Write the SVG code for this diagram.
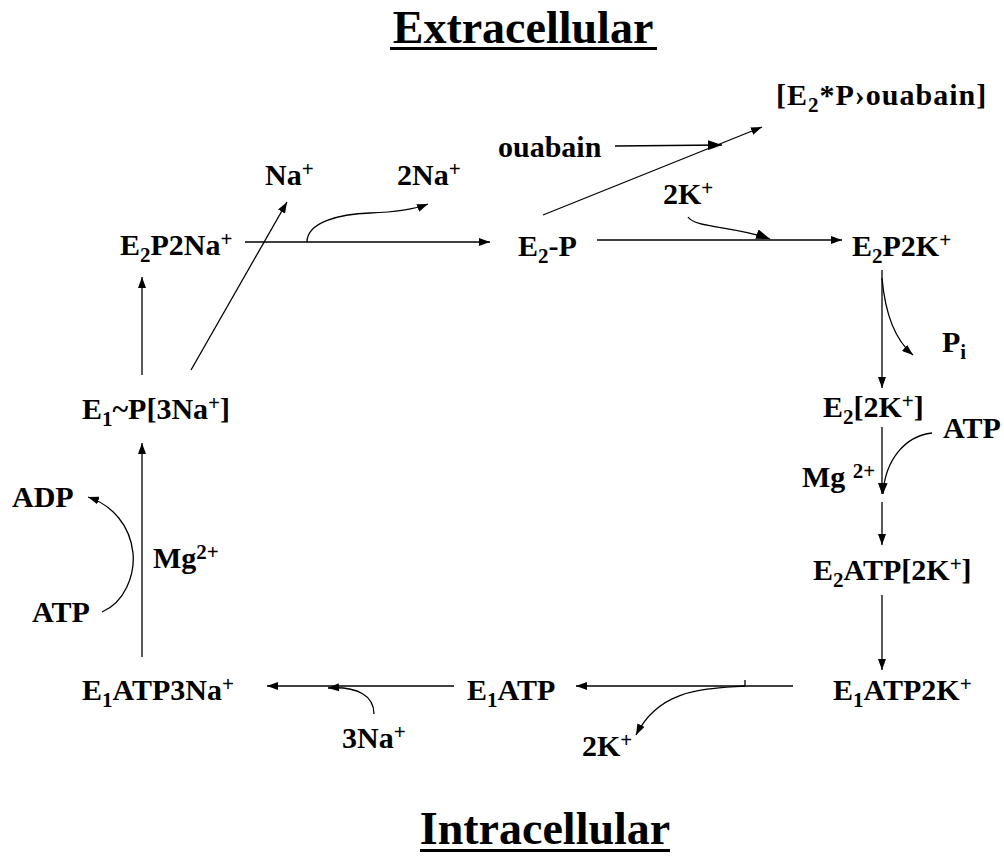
<svg xmlns="http://www.w3.org/2000/svg" width="1004" height="868" viewBox="0 0 1004 868">
<style>
text{font-family:"Liberation Serif","Times New Roman",serif;font-weight:bold;fill:#000}
.n{font-size:30px}
.t{font-size:46px}
.s{font-size:21px}
.c line,.c path{stroke:#000;stroke-width:1.3;fill:none}
</style>
<defs>
<marker id="a" markerUnits="userSpaceOnUse" markerWidth="11" markerHeight="8" refX="11" refY="4" orient="auto"><path d="M0,0 L11,4 L0,8 z" fill="#000"/></marker>
<marker id="b" markerUnits="userSpaceOnUse" markerWidth="14" markerHeight="10" refX="14" refY="5" orient="auto"><path d="M0,0 L14,5 L0,10 z" fill="#000"/></marker>
</defs>
<g id="title-extra"><text class="t" x="523" y="43" text-anchor="middle">Extracellular</text><rect x="390" y="47" width="267" height="3"/></g>
<g id="title-intra"><text class="t" x="545" y="844" text-anchor="middle">Intracellular</text><rect x="420" y="849" width="250" height="3"/></g>

<g id="E2P2Na"><text class="n" x="120" y="255">E<tspan class="s" dy="7">2</tspan><tspan dy="-7">P2Na</tspan><tspan class="s" dy="-9">+</tspan></text></g>
<g id="Na"><text class="n" x="265" y="185">Na<tspan class="s" dy="-9">+</tspan></text></g>
<g id="Na2"><text class="n" x="397" y="185">2Na<tspan class="s" dy="-9">+</tspan></text></g>
<g id="E2-P"><text class="n" x="518" y="256">E<tspan class="s" dy="7">2</tspan><tspan dy="-7">-P</tspan></text></g>
<g id="ouabain"><text class="n" x="498" y="157">ouabain</text></g>
<g id="E2Pouabain"><text class="n" x="776" y="105" letter-spacing="1">[E<tspan class="s" dy="7">2</tspan><tspan dy="-7">*P›ouabain]</tspan></text></g>
<g id="K2top"><text class="n" x="663" y="204">2K<tspan class="s" dy="-9">+</tspan></text></g>
<g id="E2P2K"><text class="n" x="852" y="256">E<tspan class="s" dy="7">2</tspan><tspan dy="-7">P2K</tspan><tspan class="s" dy="-9">+</tspan></text></g>
<g id="Pi"><text class="n" x="942" y="352">P<tspan class="s" dy="7">i</tspan></text></g>
<g id="E2-2K"><text class="n" x="823" y="417">E<tspan class="s" dy="7">2</tspan><tspan dy="-7">[2K</tspan><tspan class="s" dy="-9">+</tspan><tspan dy="9">]</tspan></text></g>
<g id="ATPr"><text class="n" x="943" y="438">ATP</text></g>
<g id="Mgr"><text class="n" x="802" y="487">Mg <tspan class="s" dy="-9">2+</tspan></text></g>
<g id="E2ATP2K"><text class="n" x="813" y="580">E<tspan class="s" dy="7">2</tspan><tspan dy="-7">ATP[2K</tspan><tspan class="s" dy="-9">+</tspan><tspan dy="9">]</tspan></text></g>
<g id="E1ATP2K"><text class="n" x="833" y="700">E<tspan class="s" dy="7">1</tspan><tspan dy="-7">ATP2K</tspan><tspan class="s" dy="-9">+</tspan></text></g>
<g id="K2bot"><text class="n" x="582" y="756">2K<tspan class="s" dy="-9">+</tspan></text></g>
<g id="E1ATP"><text class="n" x="467" y="700">E<tspan class="s" dy="7">1</tspan><tspan dy="-7">ATP</tspan></text></g>
<g id="Na3"><text class="n" x="342" y="748">3Na<tspan class="s" dy="-9">+</tspan></text></g>
<g id="E1ATP3Na"><text class="n" x="82" y="700">E<tspan class="s" dy="7">1</tspan><tspan dy="-7">ATP3Na</tspan><tspan class="s" dy="-9">+</tspan></text></g>
<g id="E1P3Na"><text class="n" x="82" y="419">E<tspan class="s" dy="7">1</tspan><tspan dy="-7">~P[3Na</tspan><tspan class="s" dy="-9">+</tspan><tspan dy="9">]</tspan></text></g>
<g id="ADP"><text class="n" x="12" y="507">ADP</text></g>
<g id="ATPl"><text class="n" x="32" y="622">ATP</text></g>
<g id="Mgl"><text class="n" x="153" y="568">Mg<tspan class="s" dy="-9">2+</tspan></text></g>

<g id="connectors" class="c">
<line x1="245" y1="242" x2="490" y2="242" marker-end="url(#a)"/>
<path d="M307,242 C307,222 340,214 370,213 C400,212 415,209 428,204" marker-end="url(#a)"/>
<line x1="191" y1="370" x2="287" y2="202" marker-end="url(#a)"/>
<line x1="142" y1="375" x2="142" y2="277" marker-end="url(#a)"/>
<line x1="142" y1="657" x2="142" y2="443" marker-end="url(#a)"/>
<path d="M102,612 C125,602 135,575 133,553 C130,525 112,505 88,497" marker-end="url(#a)"/>
<line x1="615" y1="146" x2="722" y2="145" marker-end="url(#b)"/>
<line x1="543" y1="215" x2="762" y2="127" marker-end="url(#a)"/>
<line x1="597" y1="240" x2="842" y2="240" marker-end="url(#a)"/>
<path d="M688,217 C695,228 735,226 770,239" marker-end="url(#b)"/>
<line x1="882" y1="270" x2="882" y2="388" marker-end="url(#a)"/>
<path d="M882,278 C885,312 895,340 913,355" marker-end="url(#a)"/>
<line x1="882" y1="427" x2="882" y2="494" marker-end="url(#a)"/>
<path d="M932,433 C905,436 885,460 883,494" marker-end="url(#a)"/>
<line x1="882" y1="502" x2="882" y2="545" marker-end="url(#a)"/>
<line x1="882" y1="595" x2="882" y2="670" marker-end="url(#a)"/>
<line x1="793" y1="686" x2="576" y2="686" marker-end="url(#a)"/>
<line x1="745" y1="680" x2="745" y2="686"/>
<path d="M745,686 C705,689 660,688 636,735" marker-end="url(#a)"/>
<line x1="454" y1="686" x2="267" y2="686" marker-end="url(#a)"/>
<path d="M374,714 C374,696 358,686 328,688" marker-end="url(#a)"/>
</g>
</svg>
